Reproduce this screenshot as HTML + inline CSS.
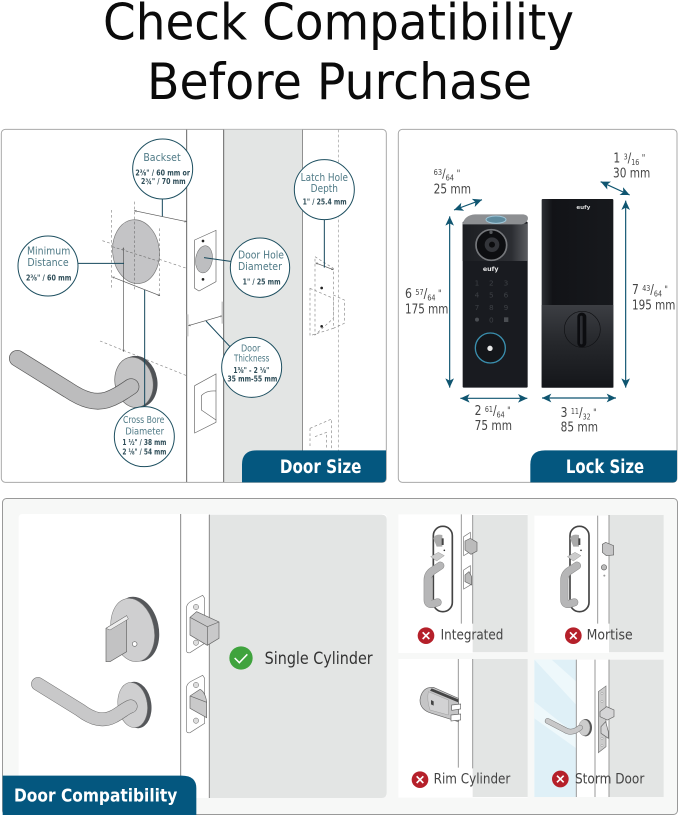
<!DOCTYPE html>
<html><head><meta charset="utf-8"><style>
html,body{margin:0;padding:0;background:#fff}
svg{display:block}
text{font-family:"DejaVu Sans","Liberation Sans",sans-serif}
</style></head><body>
<svg width="679" height="817" viewBox="0 0 679 817" xmlns="http://www.w3.org/2000/svg">
<defs>
<marker id="a" markerWidth="8" markerHeight="8" refX="7" refY="4" orient="auto-start-reverse" markerUnits="userSpaceOnUse"><path d="M0 1L7 4L0 7" fill="none" stroke="#555" stroke-width="1"/></marker>
<marker id="t" markerWidth="30" markerHeight="26" refX="28" refY="13" orient="auto-start-reverse" markerUnits="userSpaceOnUse"><path d="M0 0L28 13L0 26L7 13Z" fill="#0f5570"/></marker>
<linearGradient id="r" x1="0" y1="0" x2="0" y2="1"><stop offset="0" stop-color="#3c3e43"/><stop offset=".45" stop-color="#26282c"/><stop offset="1" stop-color="#14161a"/></linearGradient>
<linearGradient id="c" x1="0" y1="0" x2="1" y2="0"><stop offset="0" stop-color="#1c1e22"/><stop offset=".75" stop-color="#2b2d32"/><stop offset="1" stop-color="#5a5c60"/></linearGradient>
<linearGradient id="s" x1="0" y1="0" x2="1" y2="0"><stop offset="0" stop-color="#2c2e33"/><stop offset=".15" stop-color="#121317"/><stop offset="1" stop-color="#17191d"/></linearGradient>
</defs>
<rect width="679" height="817" fill="#fff"/>
<text x="103" y="39.5" font-size="50" fill="#0b0b0b" textLength="471" lengthAdjust="spacingAndGlyphs">Check Compatibility</text>
<text x="147" y="99" font-size="50" fill="#0b0b0b" textLength="385" lengthAdjust="spacingAndGlyphs">Before Purchase</text>

<!-- Panel 1 -->
<g transform="translate(0,125) scale(.33333)">
<rect x="4" y="13" width="1155" height="1059" rx="12" fill="#fff" stroke="#aaa" stroke-width="3"/>
<rect x="671" y="14" width="237" height="1057" fill="#e3e5e4"/>
<g stroke="#666" stroke-width="3" fill="none"><path d="M560 14V1071M671 14V1071"/><path d="M908 14V1071" stroke-width="2"/></g>
<path d="M1015 14V1000" stroke="#999" stroke-width="2" stroke-dasharray="8 7" fill="none"/>
<g fill="none" stroke="#888" stroke-width="2" stroke-dasharray="8 7">
<path d="M403 230V500M335 255V490M479 310V510M307 347L560 430M300 648L560 752"/>
<path d="M945 395L1000 430V580L945 630ZM930 490L1000 520V610L930 632ZM1000 510L1033 525V595L1000 610M930 910L995 882V970M930 910V970M945 935L980 922V970"/>
</g>
<ellipse cx="408" cy="380" rx="70" ry="96" fill="#c4c4c6" stroke="#777" stroke-width="2" transform="rotate(-6 408 380)"/>
<path d="M403 290V475M337 365L480 410" stroke="#777" stroke-width="2" stroke-dasharray="8 6" fill="none"/>
<g stroke="#555" stroke-width="2" fill="none">
<path d="M403 257L560 290" marker-start="url(#a)" marker-end="url(#a)"/>
<path d="M337 456L480 512" marker-start="url(#a)" marker-end="url(#a)"/>
<path d="M370 368V680" marker-start="url(#a)" marker-end="url(#a)"/>
<path d="M565 602L668 572" marker-start="url(#a)" marker-end="url(#a)"/>
<path d="M947 414L1000 434" marker-start="url(#a)" marker-end="url(#a)"/>
</g>
<!-- rose + handle -->
<ellipse cx="412" cy="770" rx="60" ry="78" fill="#4f5256" transform="rotate(-10 412 770)"/>
<ellipse cx="402" cy="772" rx="57" ry="76" fill="#c4c4c5" stroke="#666" stroke-width="2" transform="rotate(-10 402 772)"/>
<path d="M52 700L205 795C250 825 285 835 320 825C350 815 370 800 393 785" fill="none" stroke="#555" stroke-width="50" stroke-linecap="round"/>
<path d="M52 700L205 795C250 825 285 835 320 825C350 815 370 800 393 785" fill="none" stroke="#bcbcbd" stroke-width="46" stroke-linecap="round"/>
<!-- strike plates -->
<path d="M584 345L648 316V470L597 498L584 490Z" fill="#fff" stroke="#666" stroke-width="2"/>
<ellipse cx="612" cy="403" rx="25" ry="41" fill="#bdbec0" stroke="#666" stroke-width="1.5" transform="rotate(8 612 403)"/>
<circle cx="609" cy="348" r="4" fill="#222"/><circle cx="609" cy="463" r="4" fill="#222"/>
<path d="M584 782L648 747V892L584 924Z" fill="#fff" stroke="#666" stroke-width="2"/>
<path d="M604 812C620 795 640 798 648 798M604 812V855L648 885" fill="none" stroke="#666" stroke-width="2"/>
<path d="M563 568V634M667 530V596" stroke="#c8c8c8" stroke-width="5"/>
<circle cx="965" cy="489" r="4" fill="#222"/><circle cx="965" cy="604" r="4" fill="#222"/>
<!-- connectors -->
<g stroke="#16485c" stroke-width="3" fill="none">
<path d="M487 220V274M233 415H372M692 409L612 398M618 588L690 665M973 280V428M434 495V850"/>
</g>
<g fill="#fff" stroke="#1d4f60" stroke-width="3">
<circle cx="488" cy="132" r="90"/><circle cx="973" cy="194" r="90"/><circle cx="144" cy="423" r="90"/><circle cx="780" cy="428" r="89"/><circle cx="755" cy="727" r="90"/><circle cx="433" cy="935" r="90"/>
</g>
<g text-anchor="middle" fill="#4f7a86" font-size="33">
<text x="486" y="108" textLength="112" lengthAdjust="spacingAndGlyphs">Backset</text>
<text x="973" y="168" textLength="142" lengthAdjust="spacingAndGlyphs">Latch Hole</text>
<text x="973" y="201" textLength="82" lengthAdjust="spacingAndGlyphs">Depth</text>
<text x="146" y="388" textLength="130" lengthAdjust="spacingAndGlyphs">Minimum</text>
<text x="144" y="423" textLength="124" lengthAdjust="spacingAndGlyphs">Distance</text>
<text x="783" y="400" textLength="138" lengthAdjust="spacingAndGlyphs">Door Hole</text>
<text x="780" y="435" textLength="132" lengthAdjust="spacingAndGlyphs">Diameter</text>
<text x="752" y="680" font-size="28" textLength="58" lengthAdjust="spacingAndGlyphs">Door</text>
<text x="755" y="709" font-size="28" textLength="106" lengthAdjust="spacingAndGlyphs">Thickness</text>
<text x="431" y="894" font-size="29" textLength="124" lengthAdjust="spacingAndGlyphs">Cross Bore</text>
<text x="434" y="928" font-size="29" textLength="116" lengthAdjust="spacingAndGlyphs">Diameter</text>
</g>
<g text-anchor="middle" fill="#2d4c57" font-size="23" font-weight="bold">
<text x="488" y="152" textLength="164" lengthAdjust="spacingAndGlyphs">2⅜" / 60 mm or</text>
<text x="490" y="177" textLength="134" lengthAdjust="spacingAndGlyphs">2¾" / 70 mm</text>
<text x="974" y="239" textLength="132" lengthAdjust="spacingAndGlyphs">1" / 25.4 mm</text>
<text x="146" y="466" textLength="136" lengthAdjust="spacingAndGlyphs">2⅜" / 60 mm</text>
<text x="785" y="478" textLength="114" lengthAdjust="spacingAndGlyphs">1" / 25 mm</text>
<text x="754" y="744" textLength="108" lengthAdjust="spacingAndGlyphs">1⅜" - 2 ⅛"</text>
<text x="757" y="769" textLength="150" lengthAdjust="spacingAndGlyphs">35 mm-55 mm</text>
<text x="433" y="960" textLength="132" lengthAdjust="spacingAndGlyphs">1 ½" / 38 mm</text>
<text x="433" y="989" textLength="132" lengthAdjust="spacingAndGlyphs">2 ⅛" / 54 mm</text>
</g>
<path d="M726 1072V1018Q726 976 770 976H1158V1060Q1158 1072 1146 1072Z" fill="#04577f"/>
<text x="962" y="1044" font-size="56" font-weight="bold" fill="#fff" text-anchor="middle" textLength="245" lengthAdjust="spacingAndGlyphs">Door Size</text>
</g>

<!-- Panel 2 -->
<g transform="translate(395,125) scale(.33333)">
<rect x="10" y="13" width="836" height="1059" rx="12" fill="#fff" stroke="#aaa" stroke-width="3"/>
<!-- left lock -->
<rect x="203" y="290" width="195" height="498" rx="3" fill="#191b20"/>
<rect x="203" y="296" width="195" height="112" fill="url(#c)"/>
<path d="M203 296Q210 270 240 268H385Q402 270 398 285Q392 296 380 298H203Z" fill="#8d8f92"/>
<ellipse cx="303" cy="284" rx="30" ry="11" fill="#5f8b9e" stroke="#9fc6d8" stroke-width="3"/>
<circle cx="289" cy="360" r="46" fill="#0d0e11" stroke="#75777b" stroke-width="5"/>
<circle cx="291" cy="359" r="22" fill="#33353a"/><circle cx="291" cy="359" r="9" fill="#0b0c0e"/>
<circle cx="288" cy="322" r="5" fill="#55585c"/>
<text x="287" y="438" font-size="19" fill="#e6e6e6" text-anchor="middle" font-weight="bold">eufy</text>
<g font-size="22" fill="#3d4045" text-anchor="middle">
<text x="246" y="481">1</text><text x="289" y="481">2</text><text x="333" y="481">3</text>
<text x="246" y="517">4</text><text x="289" y="517">5</text><text x="333" y="517">6</text>
<text x="246" y="555">7</text><text x="289" y="555">8</text><text x="333" y="555">9</text>
<text x="289" y="592">0</text></g>
<circle cx="246" cy="584" r="6" fill="#4a4d52"/><rect x="327" y="577" width="13" height="14" fill="#4a4d52"/>
<circle cx="286" cy="669" r="45" fill="#14161a" stroke="#3a8fae" stroke-width="4"/>
<circle cx="285" cy="670" r="8" fill="#e8e8e8"/>
<!-- right lock -->
<rect x="440" y="222" width="215" height="566" rx="3" fill="url(#s)"/>
<rect x="440" y="540" width="215" height="248" fill="url(#r)"/>
<circle cx="562" cy="613" r="54" fill="none" stroke="#101114" stroke-width="2"/>
<rect x="547" y="563" width="27" height="104" rx="13" fill="#0c0d10"/>
<rect x="555" y="572" width="8" height="86" rx="4" fill="#2c2e33"/>
<text x="565" y="252" font-size="17" fill="#ddd" text-anchor="middle" font-weight="bold">eufy</text>
<!-- arrows -->
<g stroke="#0f5570" stroke-width="3.5" fill="none">
<path d="M177 255L261 224" marker-start="url(#t)" marker-end="url(#t)"/>
<path d="M617 170L704 210" marker-start="url(#t)" marker-end="url(#t)"/>
<path d="M164 274V788" marker-start="url(#t)" marker-end="url(#t)"/>
<path d="M692 227V788" marker-start="url(#t)" marker-end="url(#t)"/>
<path d="M196 820H397" marker-start="url(#t)" marker-end="url(#t)"/>
<path d="M441 819H663" marker-start="url(#t)" marker-end="url(#t)"/>
</g>
<g fill="#454545" font-size="39">
<text x="116" y="205" textLength="112" lengthAdjust="spacingAndGlyphs">25 mm</text>
<text x="654" y="157" textLength="112" lengthAdjust="spacingAndGlyphs">30 mm</text>
<text x="30" y="566" textLength="130" lengthAdjust="spacingAndGlyphs">175 mm</text>
<text x="711" y="554" textLength="130" lengthAdjust="spacingAndGlyphs">195 mm</text>
<text x="239" y="915" textLength="112" lengthAdjust="spacingAndGlyphs">75 mm</text>
<text x="497" y="920" textLength="112" lengthAdjust="spacingAndGlyphs">85 mm</text>
<text x="116" y="158" font-size="36" textLength="80" lengthAdjust="spacingAndGlyphs"><tspan font-size="23" dy="-8">63</tspan><tspan dy="8">/</tspan><tspan font-size="23" dy="8">64</tspan><tspan font-size="28" dy="-12"> "</tspan></text>
<text x="655" y="112" textLength="96" lengthAdjust="spacingAndGlyphs">1 <tspan font-size="23" dy="-9">3</tspan><tspan dy="9">/</tspan><tspan font-size="23" dy="8">16</tspan><tspan font-size="28" dy="-12"> "</tspan></text>
<text x="30" y="519" textLength="110" lengthAdjust="spacingAndGlyphs">6 <tspan font-size="23" dy="-9">57</tspan><tspan dy="9">/</tspan><tspan font-size="23" dy="8">64</tspan><tspan font-size="28" dy="-12"> "</tspan></text>
<text x="711" y="507" textLength="108" lengthAdjust="spacingAndGlyphs">7 <tspan font-size="23" dy="-9">43</tspan><tspan dy="9">/</tspan><tspan font-size="23" dy="8">64</tspan><tspan font-size="28" dy="-12"> "</tspan></text>
<text x="239" y="870" textLength="108" lengthAdjust="spacingAndGlyphs">2 <tspan font-size="23" dy="-9">61</tspan><tspan dy="9">/</tspan><tspan font-size="23" dy="8">64</tspan><tspan font-size="28" dy="-12"> "</tspan></text>
<text x="497" y="876" textLength="108" lengthAdjust="spacingAndGlyphs">3 <tspan font-size="23" dy="-9">11</tspan><tspan dy="9">/</tspan><tspan font-size="23" dy="8">32</tspan><tspan font-size="28" dy="-12"> "</tspan></text>
</g>
<path d="M406 1072V1018Q406 976 450 976H846V1060Q846 1072 834 1072Z" fill="#04577f"/>
<text x="630" y="1044" font-size="56" font-weight="bold" fill="#fff" text-anchor="middle" textLength="235" lengthAdjust="spacingAndGlyphs">Lock Size</text>
</g>

<!-- Panel 3 -->
<rect x="2.5" y="498.5" width="675" height="316" rx="4" fill="#f7f8f7" stroke="#999" stroke-width="1"/>
<g transform="translate(0,495) scale(.33333)">
<rect x="56" y="57" width="1104" height="852" rx="10" fill="#fff"/>
<path d="M628 59H1145Q1160 59 1160 74V894Q1160 909 1145 909H628Z" fill="#e3e5e4"/>
<path d="M542 57V850M628 59V909" stroke="#888" stroke-width="3"/>
<!-- thumb turn -->
<ellipse cx="410" cy="402" rx="66" ry="98" fill="#55575a" transform="rotate(-12 410 402)"/>
<ellipse cx="398" cy="405" rx="64" ry="96" fill="#cfcfd0" stroke="#777" stroke-width="1.5" transform="rotate(-12 398 405)"/>
<path d="M318 400L380 362V470L330 500H318Z" fill="#c2c2c3" stroke="#666" stroke-width="2"/>
<path d="M318 400L380 362L385 372L330 405Z" fill="#eee" stroke="#666" stroke-width="1.5"/>
<circle cx="404" cy="447" r="7" fill="#fff" stroke="#666" stroke-width="2"/>
<!-- lever -->
<ellipse cx="408" cy="630" rx="46" ry="70" fill="#55575a" transform="rotate(-8 408 630)"/>
<ellipse cx="398" cy="630" rx="44" ry="68" fill="#cfcfd0" stroke="#777" stroke-width="1.5" transform="rotate(-8 398 630)"/>
<path d="M114 567L240 645C280 675 310 680 340 665C360 655 375 640 392 634" fill="none" stroke="#666" stroke-width="41" stroke-linecap="round"/>
<path d="M114 567L240 645C280 675 310 680 340 665C360 655 375 640 392 634" fill="none" stroke="#c8c8c9" stroke-width="38" stroke-linecap="round"/>
<!-- plates -->
<path d="M559 340Q560 325 575 318L608 301L614 310V445L570 473Q559 475 559 465Z" fill="#fff" stroke="#777" stroke-width="2"/>
<path d="M559 580Q560 565 575 558L608 541L614 550V685L570 713Q559 715 559 705Z" fill="#fff" stroke="#777" stroke-width="2"/>
<circle cx="588" cy="336" r="8" fill="#ddd" stroke="#666" stroke-width="1.5"/>
<circle cx="588" cy="443" r="8" fill="#ddd" stroke="#666" stroke-width="1.5"/>
<circle cx="588" cy="570" r="8" fill="#ddd" stroke="#666" stroke-width="1.5"/>
<circle cx="588" cy="677" r="8" fill="#ddd" stroke="#666" stroke-width="1.5"/>
<path d="M570 367L590 350L657 381V430L622 451L570 420Z" fill="#c9c9ca" stroke="#666" stroke-width="2"/>
<path d="M570 367L622 395V451M622 395L657 381" fill="none" stroke="#666" stroke-width="2"/>
<path d="M570 603L600 583Q615 590 620 620V668L570 640Z" fill="#c9c9ca" stroke="#666" stroke-width="2"/>
<path d="M570 603L620 622" stroke="#666" stroke-width="2"/>
<circle cx="723" cy="489" r="35" fill="#3fa33d"/>
<path d="M704 489L718 503L742 478" fill="none" stroke="#fff" stroke-width="4.5"/>
<text x="794" y="507" font-size="50" fill="#333" textLength="324" lengthAdjust="spacingAndGlyphs">Single Cylinder</text>
<path d="M8 960V842H545Q589 842 589 880V960Z" fill="#04577f"/>
<text x="42" y="920" font-size="54" font-weight="bold" fill="#fff" textLength="490" lengthAdjust="spacingAndGlyphs">Door Compatibility</text>
</g>

<!-- Panel 4 -->
<g transform="translate(395,505) scale(.33333)">
<rect x="10" y="28" width="388" height="416" fill="#fff"/><rect x="233" y="30" width="165" height="412" fill="#e3e5e4"/>
<rect x="418" y="32" width="388" height="412" fill="#fff"/><rect x="642" y="30" width="164" height="412" fill="#e3e5e4"/>
<rect x="10" y="462" width="388" height="416" fill="#fff"/><rect x="233" y="462" width="165" height="414" fill="#e3e5e4"/>
<rect x="418" y="464" width="388" height="412" fill="#fff"/><rect x="642" y="464" width="164" height="412" fill="#e3e5e4"/>
<rect x="418" y="464" width="126" height="412" fill="#dff0f7"/>
<path d="M418 464H470L544 530V600ZM418 590L544 690V730L418 640Z" fill="#eef8fb"/>
<g stroke="#999" stroke-width="3" fill="none">
<path d="M199 28V356M233 30V356M608 32V356M642 30V356M190 462V788M233 462V790M544 464V876M600 464V876M642 464V876"/>
</g>
<!-- integrated locks -->
<g>
<rect x="115" y="64" width="57" height="256" rx="28" fill="#fff" stroke="#444" stroke-width="5"/>
<path d="M115 100Q120 85 142 90V125H125Z" fill="#aaa"/>
<rect x="140" y="100" width="6" height="20" fill="#444"/><circle cx="148" cy="136" r="2.5" fill="#333"/>
<path d="M107 155L130 142L148 152L125 168Z" fill="#ccc" stroke="#777"/>
<path d="M136 182L112 198Q98 208 98 225V285Q98 298 112 297L128 292" fill="none" stroke="#888" stroke-width="24" stroke-linecap="round"/>
<path d="M136 182L112 198Q98 208 98 225V285Q98 298 112 297L128 292" fill="none" stroke="#b6b6b7" stroke-width="21" stroke-linecap="round"/>
</g>
<g transform="translate(410 0)">
<rect x="115" y="64" width="57" height="256" rx="28" fill="#fff" stroke="#444" stroke-width="5"/>
<path d="M115 100Q120 85 142 90V125H125Z" fill="#aaa"/>
<rect x="140" y="100" width="6" height="20" fill="#444"/><circle cx="148" cy="136" r="2.5" fill="#333"/>
<path d="M107 155L130 142L148 152L125 168Z" fill="#ccc" stroke="#777"/>
<path d="M136 182L112 198Q98 208 98 225V285Q98 298 112 297L128 292" fill="none" stroke="#888" stroke-width="24" stroke-linecap="round"/>
<path d="M136 182L112 198Q98 208 98 225V285Q98 298 112 297L128 292" fill="none" stroke="#b6b6b7" stroke-width="21" stroke-linecap="round"/>
</g>
<path d="M206 95L226 82V140L206 152ZM206 195L226 182V240L206 252Z" fill="#fff" stroke="#777" stroke-width="2"/>
<path d="M210 108L226 100L246 112V138L228 148L210 135Z" fill="#bbb" stroke="#666" stroke-width="2"/>
<path d="M210 210L222 200L230 215V240L210 230Z" fill="#bbb" stroke="#666" stroke-width="2"/>
<path d="M622 118L632 112L656 122V150L634 152L622 142Z" fill="#c5c5c6" stroke="#666" stroke-width="2"/>
<circle cx="627" cy="187" r="8" fill="#bbb" stroke="#666" stroke-width="2"/><circle cx="628" cy="212" r="3" fill="#999"/>
<!-- rim -->
<path d="M115 547L190 580V650L110 625Q75 615 75 585Q80 545 115 547Z" fill="#c5c5c6" stroke="#666" stroke-width="2"/>
<path d="M110 550L190 583L190 592L105 557Z" fill="#444"/>
<path d="M100 560L160 585V630L105 615Q95 585 100 560Z" fill="#d2d2d3" stroke="#888"/>
<path d="M108 585L116 589V602L108 598Z" fill="#444"/>
<path d="M170 600L197 597V612L170 616ZM168 630L197 627V645L168 648Z" fill="#fff" stroke="#666" stroke-width="2"/>
<!-- storm -->
<path d="M610 560L633 543V725L610 743Z" fill="#ccc" stroke="#777" stroke-width="2"/>
<g fill="#fff" stroke="#666"><circle cx="621" cy="565" r="3"/><circle cx="621" cy="590" r="3"/><circle cx="621" cy="700" r="3"/><circle cx="621" cy="722" r="3"/></g>
<path d="M615 620L635 605L657 615V635L637 645L615 635Z" fill="#d5d5d6" stroke="#666" stroke-width="2"/>
<path d="M618 665L632 650L640 680V700L618 685Z" fill="#d5d5d6" stroke="#666" stroke-width="2"/>
<ellipse cx="572" cy="668" rx="19" ry="26" fill="#555"/><ellipse cx="568" cy="668" rx="17" ry="24" fill="#ccc" stroke="#777"/>
<path d="M458 648L510 675Q530 688 555 668" fill="none" stroke="#777" stroke-width="17" stroke-linecap="round"/>
<path d="M458 648L510 675Q530 688 555 668" fill="none" stroke="#c8c8c9" stroke-width="14" stroke-linecap="round"/>
<!-- labels -->
<g>
<circle cx="93" cy="392" r="25" fill="#b5202a"/><path d="M83 382L103 402M103 382L83 402" stroke="#fff" stroke-width="5"/>
<circle cx="535" cy="392" r="25" fill="#b5202a"/><path d="M525 382L545 402M545 382L525 402" stroke="#fff" stroke-width="5"/>
<circle cx="75" cy="824" r="25" fill="#b5202a"/><path d="M65 814L85 834M85 814L65 834" stroke="#fff" stroke-width="5"/>
<circle cx="496" cy="822" r="25" fill="#b5202a"/><path d="M486 812L506 832M506 812L486 832" stroke="#fff" stroke-width="5"/>
</g>
<g font-size="42" fill="#444">
<text x="137" y="404" textLength="188" lengthAdjust="spacingAndGlyphs">Integrated</text>
<text x="575" y="404" textLength="138" lengthAdjust="spacingAndGlyphs">Mortise</text>
<text x="116" y="836" textLength="230" lengthAdjust="spacingAndGlyphs">Rim Cylinder</text>
<text x="540" y="835" textLength="208" lengthAdjust="spacingAndGlyphs">Storm Door</text>
</g>
</g>
</svg>
</body></html>
